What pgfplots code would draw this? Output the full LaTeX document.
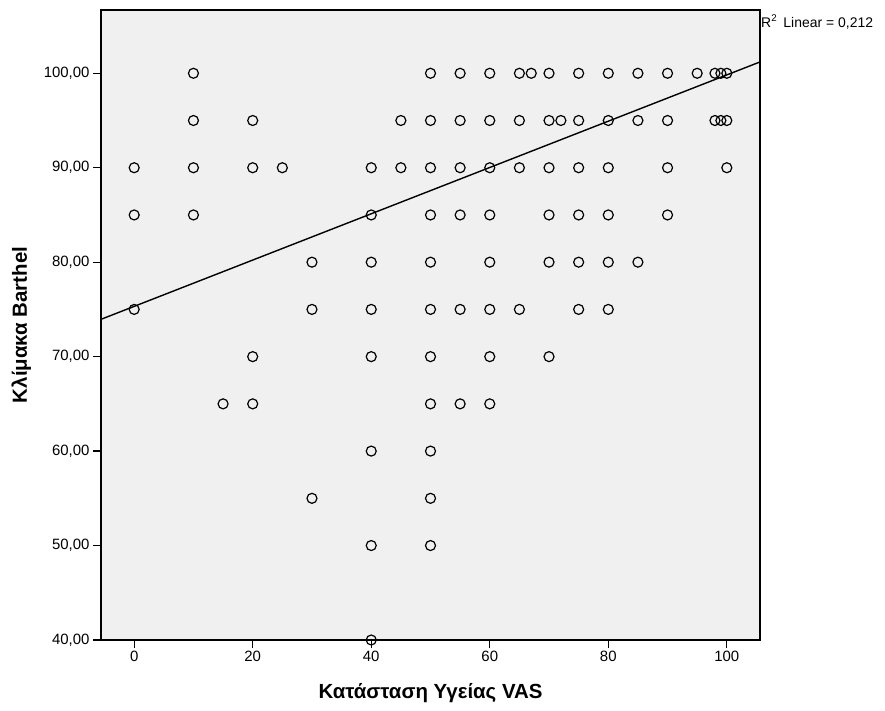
\documentclass[border=0pt]{standalone}
\usepackage{pgfplots}
\pgfplotsset{compat=1.18}
\usepackage{fontspec}
\setmainfont{Liberation Sans}
\definecolor{bgc}{HTML}{F0F0F0}
\begin{document}
\begin{tikzpicture}
\begin{axis}[
  scale only axis,
  width=659bp, height=630bp,
  xmin=-5.6, xmax=105.6,
  ymin=40, ymax=106.7,
  axis background/.style={fill=bgc},
  axis line style={line width=1.2bp, black},
  xtick={0,20,...,100},
  ytick={40,50,...,100},
  tick align=outside,
  xtick pos=bottom, ytick pos=left,
  major tick length=8bp,
  tick style={line width=1.2bp, black},
  /pgf/number format/assume math mode=true,
  yticklabel style={/pgf/number format/.cd, fixed, fixed zerofill, precision=2, use comma, 1000 sep={}},
  xticklabel style={/pgf/number format/.cd, fixed, precision=0, 1000 sep={}},
  ticklabel style={font=\fontsize{15}{17}\selectfont},
  every axis x label/.style={at={(axis description cs:0.5,-0.084)}, anchor=center},
  every axis y label/.style={at={(axis description cs:-0.121,0.5)}, rotate=90, anchor=center},
  label style={font=\fontsize{20.5}{24}\selectfont\bfseries},
  xlabel={Κατάσταση Υγείας VAS},
  ylabel={Κλίμακα Barthel},
  clip=false,
]
\addplot[only marks, mark=o, mark size=5bp, mark options={line width=1.2bp, black}] coordinates {
 (10,100) (50,100) (55,100) (60,100) (65,100) (67,100) (70,100) (75,100) (80,100) (85,100) (90,100) (95,100) (98,100) (99,100) (100,100)
 (10,95) (20,95) (45,95) (50,95) (55,95) (60,95) (65,95) (70,95) (72,95) (75,95) (80,95) (85,95) (90,95) (98,95) (99,95) (100,95)
 (0,90) (10,90) (20,90) (25,90) (40,90) (45,90) (50,90) (55,90) (60,90) (65,90) (70,90) (75,90) (80,90) (90,90) (100,90)
 (0,85) (10,85) (40,85) (50,85) (55,85) (60,85) (70,85) (75,85) (80,85) (90,85)
 (30,80) (40,80) (50,80) (60,80) (70,80) (75,80) (80,80) (85,80)
 (0,75) (30,75) (40,75) (50,75) (55,75) (60,75) (65,75) (75,75) (80,75)
 (20,70) (40,70) (50,70) (60,70) (70,70)
 (15,65) (20,65) (50,65) (55,65) (60,65)
 (40,60) (50,60)
 (30,55) (50,55)
 (40,50) (50,50)
 (40,40)
};
\addplot[black, line width=1.4bp, no marks] coordinates {(-5.6,73.95) (105.6,101.2)};
\node[anchor=west, font=\fontsize{14}{16}\selectfont, inner sep=1bp] at ([yshift=-12bp]rel axis cs:1,1) {R\textsuperscript{2}\hspace{0.45em}Linear = 0,212};
\coordinate (SW) at (rel axis cs:0,0);
\end{axis}
\pgfresetboundingbox
\path (SW) ++(-101bp,-71bp) rectangle ++(885bp,711bp);
\end{tikzpicture}
\end{document}
